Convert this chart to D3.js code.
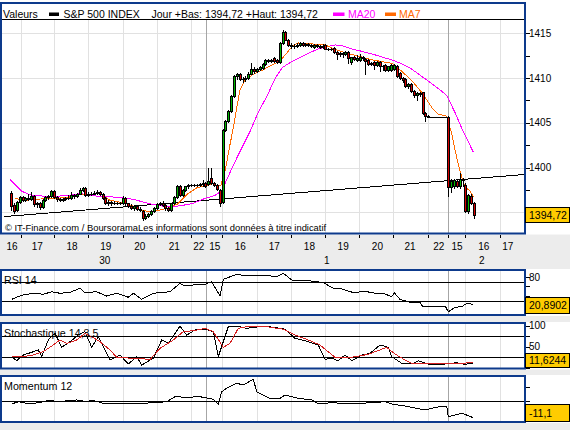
<!DOCTYPE html>
<html><head><meta charset="utf-8">
<script src="https://cdn.jsdelivr.net/npm/d3@7/dist/d3.min.js"></script>
<style>
html,body{margin:0;padding:0;background:#ececec;}
svg{display:block;font-family:"Liberation Sans",Arial,Helvetica,sans-serif;}
</style></head><body>
<svg id="chart" width="570" height="430"></svg>
<script>
// ================= DATA =================
const instrument = "S&P 500 INDEX";
const headerInfo = "Jour +Bas: 1394,72 +Haut: 1394,72";
const copyright = "\u00A9 IT-Finance.com / BoursoramaLes informations sont données à titre indicatif";

// time axis (in 5-minute bar units)
const hourTickBars = [5.45,17.1,29.0,41.05,52.95,64.85,75.9,87.95,99.95,111.85,123.75,135.65,147.9,160.85,173.1];
const daySeparatorBars = [70.2,155.0];
const hourLabels = ["16","17","18","19","20","21","22","15","16","17","18","19","20","21","22","15","16","17"];
const hourLabelBars = [2.3,11.15,23.3,35.1,47.0,59.1,67.65,73.3,82.2,94.1,106.4,118.2,130.2,141.6,151.65,158.05,167.45,175.8];
const dateLabels = ["30","1","2"];
const dateLabelBars = [34.75,112.45,166.7];

// candles, bars 2..164
const firstBar = 2;
const open = [
1397.2,1395.8,1395.3,1396.2,1396.7,1396.4,1396.6,1396.5,1396.8,1395.9,
1396.0,1395.6,1396.4,1396.7,1396.8,1397.4,1396.7,1396.5,1396.4,1396.5,
1396.6,1396.6,1396.9,1396.8,1397.1,1397.5,1397.7,1396.9,1397.1,1397.1,
1397.2,1397.3,1397.1,1396.6,1396.0,1396.2,1396.0,1396.1,1396.0,1396.0,
1396.6,1396.0,1395.7,1395.5,1395.7,1395.4,1395.2,1394.4,1394.6,1394.8,
1395.2,1395.5,1395.9,1396.0,1395.8,1395.5,1395.3,1396.0,1396.7,1398.0,
1396.9,1397.5,1397.9,1398.1,1398.1,1398.1,1398.1,1398.2,1398.3,1398.2,
1398.8,1398.3,1398.1,1397.5,1396.2,1404.2,1405.2,1406.3,1408.0,1410.2,
1410.4,1409.9,1409.9,1410.0,1410.5,1411.0,1410.8,1411.0,1411.1,1411.6,
1412.0,1411.9,1412.2,1412.0,1411.8,1413.9,1415.2,1414.3,1413.7,1413.6,
1413.6,1413.7,1413.9,1413.7,1413.8,1413.7,1413.5,1413.7,1413.6,1413.5,
1413.7,1413.3,1413.2,1413.4,1412.9,1412.7,1412.8,1412.7,1412.9,1411.8,
1412.3,1412.0,1412.0,1412.4,1412.1,1412.0,1411.6,1411.8,1411.5,1411.8,
1411.4,1411.5,1410.9,1410.9,1411.0,1411.4,1410.6,1410.0,1409.9,1409.1,
1409.3,1408.6,1408.1,1408.3,1408.4,1406.1,1405.8,1405.7,1405.7,1405.7,
1405.7,1405.7,1405.7,1405.7,1397.8,1397.9,1398.5,1397.9,1398.7,1398.1,
1395.2,1396.8,1396.1];
const high = [
1397.4,1396.0,1396.3,1396.8,1396.8,1396.7,1397.0,1397.3,1396.9,1396.2,
1396.2,1396.5,1396.8,1396.9,1397.5,1397.5,1396.8,1396.6,1396.6,1396.7,
1396.9,1397.3,1397.0,1397.2,1397.7,1397.8,1397.8,1397.3,1397.3,1397.4,
1397.5,1397.4,1397.2,1396.7,1396.4,1396.3,1396.3,1396.2,1396.2,1396.8,
1396.7,1396.1,1395.9,1395.8,1395.8,1395.6,1395.3,1394.8,1394.9,1395.3,
1395.6,1396.1,1396.2,1396.3,1395.9,1395.6,1396.1,1396.8,1398.1,1398.1,
1397.6,1398.0,1398.2,1398.2,1398.2,1398.2,1398.3,1398.6,1398.4,1400.0,
1400.0,1398.4,1398.2,1397.6,1404.3,1405.3,1406.4,1408.1,1410.3,1410.6,
1410.6,1410.1,1410.2,1410.7,1411.7,1411.2,1411.1,1411.3,1411.7,1412.1,
1412.1,1412.1,1412.3,1412.1,1414.0,1415.4,1415.3,1414.4,1413.9,1413.8,
1413.9,1414.0,1414.0,1413.9,1413.9,1413.8,1413.8,1413.8,1413.7,1413.8,
1413.8,1413.4,1413.4,1413.5,1413.0,1412.9,1412.9,1413.0,1413.0,1412.4,
1412.5,1412.6,1412.7,1412.5,1412.2,1412.1,1411.8,1411.9,1411.9,1411.9,
1411.5,1411.6,1411.4,1411.6,1411.6,1411.5,1410.7,1410.1,1410.0,1409.5,
1409.4,1408.7,1408.4,1408.4,1408.5,1406.2,1405.9,1405.7,1405.7,1405.7,
1405.7,1405.7,1405.7,1405.8,1398.7,1398.7,1398.6,1399.4,1398.8,1398.3,
1397.0,1397.0,1396.2];
const low = [
1395.3,1394.9,1395.2,1396.0,1396.3,1396.3,1396.4,1396.4,1395.7,1395.6,
1395.4,1395.5,1396.3,1396.5,1396.7,1396.6,1396.3,1396.3,1396.3,1396.4,
1396.5,1396.5,1396.6,1396.7,1397.0,1397.4,1396.8,1396.8,1396.9,1397.0,
1397.1,1396.9,1396.5,1395.9,1395.8,1395.8,1395.9,1395.9,1395.9,1395.9,
1395.8,1395.6,1395.4,1395.3,1395.3,1395.2,1394.2,1394.3,1394.5,1394.7,
1395.1,1395.4,1395.8,1395.7,1395.3,1395.2,1395.2,1395.9,1396.6,1396.8,
1396.8,1397.4,1397.7,1398.0,1398.0,1398.0,1398.0,1397.9,1397.8,1398.1,
1398.2,1398.0,1397.5,1395.7,1396.1,1404.1,1405.1,1406.2,1407.9,1409.9,
1409.8,1409.6,1409.7,1409.9,1410.4,1410.6,1410.7,1410.9,1411.0,1411.5,
1411.8,1411.8,1411.8,1411.7,1411.7,1413.8,1414.2,1413.6,1413.4,1413.4,
1413.5,1413.6,1413.6,1413.6,1413.6,1413.5,1413.4,1413.5,1413.4,1413.4,
1413.2,1413.1,1413.1,1412.8,1412.1,1412.5,1412.4,1412.6,1411.7,1411.6,
1412.0,1411.9,1411.9,1412.0,1410.4,1411.5,1411.5,1411.0,1411.4,1410.8,
1410.9,1410.8,1410.8,1410.8,1410.9,1410.1,1409.9,1409.6,1409.0,1408.9,
1408.5,1407.9,1407.6,1408.0,1406.0,1405.2,1405.6,1405.7,1405.7,1405.7,
1405.7,1405.7,1405.7,1396.8,1397.3,1397.7,1397.8,1397.7,1397.9,1395.0,
1394.9,1395.9,1394.4];
const close = [
1395.7,1395.2,1396.2,1396.7,1396.4,1396.6,1396.5,1396.8,1395.9,1396.0,
1395.6,1396.4,1396.7,1396.8,1397.4,1396.7,1396.5,1396.4,1396.5,1396.6,
1396.6,1396.9,1396.8,1397.1,1397.5,1397.7,1396.9,1397.1,1397.1,1397.2,
1397.3,1397.0,1396.6,1396.0,1396.2,1396.0,1396.1,1396.0,1396.1,1396.6,
1396.0,1395.7,1395.5,1395.7,1395.4,1395.3,1394.4,1394.6,1394.8,1395.2,
1395.5,1395.9,1396.0,1395.8,1395.5,1395.3,1396.0,1396.7,1398.0,1396.9,
1397.5,1397.9,1398.1,1398.1,1398.1,1398.1,1398.2,1398.3,1398.0,1398.5,
1398.3,1398.1,1397.6,1396.1,1404.2,1405.2,1406.3,1408.0,1410.2,1410.5,
1409.9,1409.9,1410.0,1410.5,1411.0,1410.8,1411.0,1411.2,1411.6,1412.0,
1411.9,1412.0,1411.9,1411.8,1413.9,1415.2,1414.3,1413.7,1413.6,1413.6,
1413.7,1413.9,1413.7,1413.8,1413.7,1413.6,1413.7,1413.6,1413.5,1413.6,
1413.3,1413.2,1413.3,1412.9,1412.7,1412.8,1412.7,1412.9,1412.2,1412.3,
1412.1,1412.2,1412.4,1412.2,1411.9,1411.6,1411.7,1411.5,1411.8,1411.4,
1411.3,1410.9,1411.3,1411.5,1411.5,1410.2,1410.0,1409.8,1409.1,1409.3,
1408.6,1408.1,1408.3,1408.2,1406.1,1405.8,1405.7,1405.7,1405.7,1405.7,
1405.7,1405.7,1405.7,1397.8,1398.5,1398.6,1398.0,1398.7,1398.6,1395.2,
1396.9,1396.1,1394.72];

const ma20Bars = [1.6,5.8,8.6,13.9,21.6,26.1,29.6,33.1,40.1,44.7,50.6,56.6,61.1,65.7,69.9,73.4,75.8,77.2,79.7,82.1,85.6,88.4,91.6,94.4,96.8,98.9,101.4,104.9,109.4,112.9,115.4,117.8,120.6,124.8,129.4,132.9,135.3,138.8,141.6,146.9,151.4,154.4,157.4,160.2,163.8];
const ma20Vals = [1398.68,1397.35,1396.96,1396.79,1396.85,1397.12,1396.90,1396.79,1396.68,1396.46,1395.96,1395.62,1395.73,1396.01,1396.57,1396.90,1397.46,1398.46,1400.24,1401.80,1404.02,1406.13,1408.03,1409.97,1411.14,1411.59,1412.03,1412.59,1413.25,1413.53,1413.70,1413.61,1413.31,1412.98,1412.59,1412.25,1412.03,1411.59,1411.14,1409.92,1408.86,1408.08,1406.13,1404.02,1401.72];
const ma7Bars = [3.35,6.15,9.65,15.6,21.55,26.1,33.1,36.6,41.1,44.65,48.15,51.65,56.55,60.05,63.55,67.05,70.55,72.65,74.05,75.45,76.85,78.6,79.75,80.95,82.1,83.85,86.65,90.15,93.65,96.1,98.55,100.3,102.4,107.3,111.85,115.35,118.85,123.4,128.3,131.8,135.3,138.8,142.3,145.8,149.3,151.4,154.4,156.3,157.4,158.6,159.7,160.9,162.6,163.8];
const ma7Vals = [1396.62,1396.29,1396.46,1396.54,1396.65,1397.01,1397.07,1396.35,1396.09,1395.71,1395.18,1395.09,1395.46,1395.90,1397.01,1397.76,1398.01,1398.29,1397.85,1398.07,1399.57,1402.57,1404.43,1406.69,1408.69,1409.75,1410.42,1410.92,1411.53,1411.92,1412.81,1413.53,1413.92,1413.81,1413.70,1413.22,1412.84,1412.47,1412.03,1411.84,1411.64,1410.73,1409.69,1408.36,1406.69,1405.97,1405.75,1403.69,1401.91,1400.24,1398.96,1397.85,1397.38,1396.76];
const trendBars = [-0.5,181.85];
const trendVals = [1394.53,1399.24];

const priceTicks = [1395,1400,1405,1410,1415];
const priceMinorTicks = [1397.5,1402.5,1407.5,1412.5];
const lastPrice = "1394,72";

const rsiBars = [2.2,3.9,6.3,9.8,13.3,16.2,19.1,22.6,26.1,27.9,31.9,35.4,39.0,43.0,44.8,47.7,51.8,55.3,57.6,61.1,62.9,65.8,69.3,72.2,75.1,76.3,81.0,84.5,90.3,95.0,97.3,100.2,106.0,109.0,111.3,114.8,117.1,120.6,122.4,125.3,129.4,132.9,135.2,136.1,138.1,141.6,145.1,145.9,153.9,155.0,157.4,159.7,161.5,162.6,163.8];
const rsiVals = [32.9,37.2,42.0,45.6,43.5,48.9,45.6,47.7,56.1,46.8,48.9,39.9,45.6,37.2,45.6,32.9,45.6,47.7,48.9,66.6,61.0,63.1,63.1,70.0,39.9,75.1,85.6,82.0,84.1,80.5,87.7,73.6,72.1,70.0,67.9,56.1,56.1,48.9,46.8,50.4,45.6,44.1,38.4,46.8,32.9,26.6,26.6,18.8,18.8,6.8,16.1,17.4,24.5,24.5,20.89];
const rsiLevels = [30,70];
const rsiTicks = [20,40,60,80];
const rsiLabels = [80];
const lastRsi = "20,8902";

const stochKBars = [2.2,3.9,6.3,9.8,11.5,12.7,15.0,17.35,19.7,22.6,25.5,27.85,30.2,32.5,36.6,40.1,43.0,45.95,47.7,51.75,54.7,57.0,61.1,63.45,66.35,69.85,72.75,74.5,78.0,80.95,84.45,89.1,92.0,94.95,97.85,101.35,104.85,109.5,111.85,114.2,116.5,118.85,121.2,124.7,127.6,131.1,134.0,135.2,138.7,142.2,144.5,148.0,153.85,157.95,160.85,163.75];
const stochKVals = [26.4,16.9,30.5,38.3,42.4,26.4,66.2,82.1,48.8,62.1,78.1,86.0,48.8,74.0,18.6,30.5,9.0,26.4,6.7,22.6,66.2,58.3,99.5,78.0,90.0,92.0,86.0,26.4,98.0,99.5,94.0,98.0,98.0,95.5,91.7,70.2,64.5,54.3,20.2,22.6,16.9,30.5,16.9,30.5,34.5,54.3,48.8,26.4,10.7,9.0,16.9,9.0,9.0,12.1,8.3,11.62];
const stochDBars = [2.2,6.25,9.75,13.25,16.75,19.1,21.45,24.95,27.85,30.2,33.1,36.6,38.95,44.75,50.65,54.1,58.75,62.25,65.75,69.85,72.75,76.25,78.6,81.5,84.45,91.45,97.25,101.35,106.0,110.1,115.35,121.2,127.0,133.45,136.35,139.85,142.2,151.5,163.75];
const stochDVals = [26.4,26.4,30.5,38.3,54.3,66.2,58.3,66.2,82.1,74.0,62.1,42.4,25.0,22.6,20.2,46.4,66.2,86.0,88.3,94.0,86.0,48.8,58.3,94.0,98.0,98.0,91.7,78.0,66.2,54.3,25.0,25.0,32.1,48.8,32.9,18.6,10.7,10.7,11.6];
const stochLevels = [25,75];
const stochTicks = [0,25,50,75,100];
const stochLabels = [50,100];
const lastStoch = "11,6244";

const momBars = [2.2,4.5,8.6,13.25,15.6,17.95,24.95,28.45,30.2,34.25,40.1,44.75,51.75,56.45,59.35,63.45,68.1,72.75,74.5,75.7,77.45,80.95,83.25,86.75,87.95,92.6,96.1,97.85,102.5,107.2,109.5,114.2,121.2,128.2,132.85,135.2,139.85,146.85,152.7,154.45,155.0,157.35,159.7,161.45,163.75];
const momVals = [-1.8,-0.3,-1.8,-0.3,0.9,-0.3,0.9,-0.3,0.9,-1.4,-1.4,-1.8,-0.9,-0.3,3.1,2.7,3.1,1.4,-1.8,6.5,8.8,12.2,11.0,14.9,6.5,2.0,2.0,4.3,2.0,0.9,-1.8,-0.9,-1.8,-0.9,-0.3,-1.8,-3.2,-5.9,-3.2,-3.2,-10.4,-9.3,-8.1,-9.3,-11.1];
const momLevels = [0];
const momTicks = [-10,0,10];
const momLabels = [0];
const lastMom = "-11,1";

// ================= DRAW =================
const svg = d3.select("#chart");
const BLUE = "#0d3a8c", GRID = "#e1e1e1", SEP = "#a6a6a6", BG = "#ececec";
const GREEN = "#00b400", RED = "#d40000", MAG = "#ff00ff", ORANGE = "#ff6a00", BOX = "#ffcc00";

svg.append("rect").attr("width",570).attr("height",430).attr("fill",BG);

const x = d3.scaleLinear().domain([-0.5,181.85]).range([4,525]);
const defs = svg.append("defs");
function clip(id,x0,y0,w,h){defs.append("clipPath").attr("id",id).append("rect").attr("x",x0).attr("y",y0).attr("width",w).attr("height",h);}

// ---- panel geometry ----
const main = {frameY:3, frameH:230.5, plotTop:20, plotBottom:232.5};
const yMain = d3.scaleLinear().domain([1395,1415]).range([212.4,33.3]);
const panels = [
  {name:"RSI 14", frameY:270, frameH:45, boxH:16, y:d3.scaleLinear().domain([30,70]).range([300.7,281.7]),
   levels:rsiLevels, ticks:rsiTicks, labels:rsiLabels, last:lastRsi, lastVal:rsiVals[rsiVals.length-1],
   lines:[{bars:rsiBars, vals:rsiVals, color:"#000"}]},
  {name:"Stochastique 14,3,5", frameY:323, frameH:45.5, boxH:13.5, y:d3.scaleLinear().domain([25,75]).range([357.3,336.3]),
   levels:stochLevels, ticks:stochTicks, labels:stochLabels, last:lastStoch, lastVal:stochKVals[stochKVals.length-1],
   lines:[{bars:stochKBars, vals:stochKVals, color:"#000"},{bars:stochDBars, vals:stochDVals, color:"#d42020"}]},
  {name:"Momentum 12", frameY:376, frameH:46, boxH:16.5, y:d3.scaleLinear().domain([-10,0]).range([416.1,401.3]),
   levels:momLevels, ticks:momTicks, labels:momLabels, last:lastMom, lastVal:momVals[momVals.length-1],
   lines:[{bars:momBars, vals:momVals, color:"#000"}]}
];

// white rows
svg.append("rect").attr("x",0).attr("y",0).attr("width",570).attr("height",main.frameY+main.frameH+1).attr("fill","#fff");
panels.forEach(p=>svg.append("rect").attr("x",0).attr("y",p.frameY-1).attr("width",570).attr("height",p.frameH+2).attr("fill","#fff"));

function vGrid(g,y0,y1){
  g.selectAll(null).data(hourTickBars).enter().append("line")
    .attr("x1",d=>Math.round(x(d))+0.5).attr("x2",d=>Math.round(x(d))+0.5)
    .attr("y1",y0).attr("y2",y1).attr("stroke",GRID).attr("stroke-width",1);
  g.selectAll(null).data(daySeparatorBars).enter().append("line")
    .attr("x1",d=>Math.round(x(d))+0.5).attr("x2",d=>Math.round(x(d))+0.5)
    .attr("y1",y0).attr("y2",y1).attr("stroke",SEP).attr("stroke-width",1);
}

// ---------- MAIN PANEL ----------
clip("clipMain",2,main.plotTop,522,main.plotBottom-main.plotTop);
const gm = svg.append("g").attr("shape-rendering","crispEdges");
gm.selectAll(null).data(priceTicks).enter().append("line")
  .attr("x1",2).attr("x2",524).attr("y1",d=>Math.round(yMain(d))+0.5).attr("y2",d=>Math.round(yMain(d))+0.5)
  .attr("stroke",GRID);
vGrid(gm,main.plotTop,main.plotBottom);

// trend line
const lineMain = d3.line().x(d=>x(d[0])).y(d=>yMain(d[1]));
svg.append("path").datum(trendBars.map((b,i)=>[b,trendVals[i]]))
  .attr("d",lineMain).attr("fill","none").attr("stroke","#000").attr("stroke-width",1)
  .attr("clip-path","url(#clipMain)").attr("shape-rendering","crispEdges");

// MAs
svg.append("path").datum(ma20Bars.map((b,i)=>[b,ma20Vals[i]]))
  .attr("d",lineMain).attr("fill","none").attr("stroke",MAG).attr("stroke-width",1)
  .attr("clip-path","url(#clipMain)").attr("shape-rendering","crispEdges");
svg.append("path").datum(ma7Bars.map((b,i)=>[b,ma7Vals[i]]))
  .attr("d",lineMain).attr("fill","none").attr("stroke",ORANGE).attr("stroke-width",1)
  .attr("clip-path","url(#clipMain)").attr("shape-rendering","crispEdges");

// candles
const candles = open.map((o,i)=>({bar:firstBar+i,o:o,h:high[i],l:low[i],c:close[i]}));
const gc = svg.append("g").attr("clip-path","url(#clipMain)").attr("shape-rendering","crispEdges");
candles.forEach(d=>{
  const xi = Math.round(x(d.bar));
  const yh = Math.round(yMain(d.h)), yl = Math.round(yMain(d.l));
  gc.append("rect").attr("x",xi).attr("y",yh).attr("width",1).attr("height",Math.max(1,yl-yh+1)).attr("fill","#000");
  const yo = Math.round(yMain(d.o)), yc = Math.round(yMain(d.c));
  if (yo===yc) {
    gc.append("rect").attr("x",xi-1).attr("y",yo).attr("width",3).attr("height",1).attr("fill","#000");
  } else {
    const t = Math.min(yo,yc), b = Math.max(yo,yc);
    gc.append("rect").attr("x",xi-1).attr("y",t).attr("width",3).attr("height",b-t+1).attr("fill","#000");
    if (b-t>=2) gc.append("rect").attr("x",xi).attr("y",t+1).attr("width",1).attr("height",b-t-1)
      .attr("fill",d.c>d.o?GREEN:RED);
  }
});

// copyright
svg.append("text").attr("x",5).attr("y",231).attr("font-size",9.4).attr("fill","#000").text(copyright);

// header
const hdr = svg.append("g").attr("font-size",10.5);
hdr.append("text").attr("x",3).attr("y",17.5).text("Valeurs");
hdr.append("rect").attr("x",49).attr("y",12.5).attr("width",10).attr("height",3.5).attr("fill","#000");
hdr.append("text").attr("x",63.5).attr("y",17.5).text(instrument);
hdr.append("text").attr("x",151.5).attr("y",17.5).text(headerInfo);
hdr.append("rect").attr("x",333).attr("y",12.5).attr("width",11.5).attr("height",3.5).attr("fill",MAG);
hdr.append("text").attr("x",348).attr("y",17.5).attr("fill",MAG).text("MA20");
hdr.append("rect").attr("x",385).attr("y",12.5).attr("width",11).attr("height",3.5).attr("fill",ORANGE);
hdr.append("text").attr("x",399).attr("y",17.5).attr("fill",ORANGE).text("MA7");
svg.append("line").attr("x1",2).attr("x2",524).attr("y1",19.5).attr("y2",19.5).attr("stroke","#000").attr("shape-rendering","crispEdges");

// main frame
svg.append("rect").attr("x",1).attr("y",main.frameY).attr("width",524).attr("height",main.frameH)
  .attr("fill","none").attr("stroke",BLUE).attr("stroke-width",2);

function boxTop(yc,maxBottom,h){
  let top = yc - h/2;
  if (top + h > maxBottom) top = maxBottom - h;
  return Math.round(top)+0.5;
}
function valueBox(top,txt,h){
  svg.append("rect").attr("x",525.5).attr("y",top).attr("width",43.5).attr("height",h)
    .attr("fill",BOX).attr("stroke","#000").attr("stroke-width",1).attr("shape-rendering","crispEdges");
  svg.append("text").attr("x",529).attr("y",top+h/2+3.8).attr("font-size",10.5).text(txt);
}
// labels hidden behind a value box are not drawn (as in the reference)
function visibleLabels(vals,scale,top,h){
  return vals.filter(v=>{const yy=scale(v); return yy+4<top || yy-4>top+h;});
}

// right axis main
const priceBoxTop = boxTop(yMain(+lastPrice.replace(",",".")),232,15);
const ga = svg.append("g").attr("shape-rendering","crispEdges");
ga.selectAll(null).data(priceTicks.concat(priceMinorTicks)).enter().append("line")
  .attr("x1",526).attr("x2",530).attr("y1",d=>Math.round(yMain(d))+0.5).attr("y2",d=>Math.round(yMain(d))+0.5).attr("stroke","#000");
svg.selectAll(null).data(visibleLabels(priceTicks,yMain,priceBoxTop,15)).enter().append("text")
  .attr("x",529).attr("y",d=>yMain(d)+3.6).attr("font-size",10).text(d=>d);
valueBox(priceBoxTop,lastPrice,15);

// ---------- X AXIS BAND ----------
const band = svg.append("g");
band.selectAll(null).data(hourTickBars.concat(daySeparatorBars)).enter().append("line")
  .attr("x1",d=>Math.round(x(d))+0.5).attr("x2",d=>Math.round(x(d))+0.5)
  .attr("y1",234.5).attr("y2",237.5).attr("stroke","#000").attr("shape-rendering","crispEdges");
band.selectAll(null).data(hourLabels).enter().append("text")
  .attr("x",(d,i)=>x(hourLabelBars[i])).attr("y",250).attr("text-anchor","middle").attr("font-size",10).text(d=>d);
band.selectAll(null).data(dateLabels).enter().append("text")
  .attr("x",(d,i)=>x(dateLabelBars[i])).attr("y",264).attr("text-anchor","middle").attr("font-size",10).text(d=>d);

// ---------- INDICATOR PANELS ----------
panels.forEach((p,pi)=>{
  const top = p.frameY+1, bottom = p.frameY+p.frameH-1;
  const cid = "clipP"+pi;
  clip(cid,2,top,522,bottom-top);
  const g = svg.append("g").attr("shape-rendering","crispEdges");
  vGrid(g,top,bottom);
  g.selectAll(null).data(p.levels).enter().append("line")
    .attr("x1",2).attr("x2",524).attr("y1",d=>Math.round(p.y(d))+0.5).attr("y2",d=>Math.round(p.y(d))+0.5)
    .attr("stroke","#000");
  const ln = d3.line().x(d=>x(d[0])).y(d=>p.y(d[1]));
  p.lines.forEach(L=>{
    svg.append("path").datum(L.bars.map((b,i)=>[b,L.vals[i]])).attr("d",ln)
      .attr("fill","none").attr("stroke",L.color).attr("stroke-width",1)
      .attr("clip-path","url(#"+cid+")").attr("shape-rendering","crispEdges");
  });
  svg.append("text").attr("x",4).attr("y",p.frameY+13.5).attr("font-size",10.7).text(p.name);
  svg.append("rect").attr("x",1).attr("y",p.frameY).attr("width",524).attr("height",p.frameH)
    .attr("fill","none").attr("stroke",BLUE).attr("stroke-width",2);
  svg.selectAll(null).data(p.ticks).enter().append("line")
    .attr("x1",526).attr("x2",530).attr("y1",d=>Math.round(p.y(d))+0.5).attr("y2",d=>Math.round(p.y(d))+0.5)
    .attr("stroke","#000").attr("shape-rendering","crispEdges");
  const bt = boxTop(p.y(p.lastVal),p.frameY+p.frameH-2,p.boxH);
  svg.selectAll(null).data(visibleLabels(p.labels,p.y,bt,p.boxH)).enter().append("text")
    .attr("x",529).attr("y",d=>p.y(d)+3.6).attr("font-size",10).text(d=>d);
  valueBox(bt,p.last,p.boxH);
});
</script>
</body></html>
